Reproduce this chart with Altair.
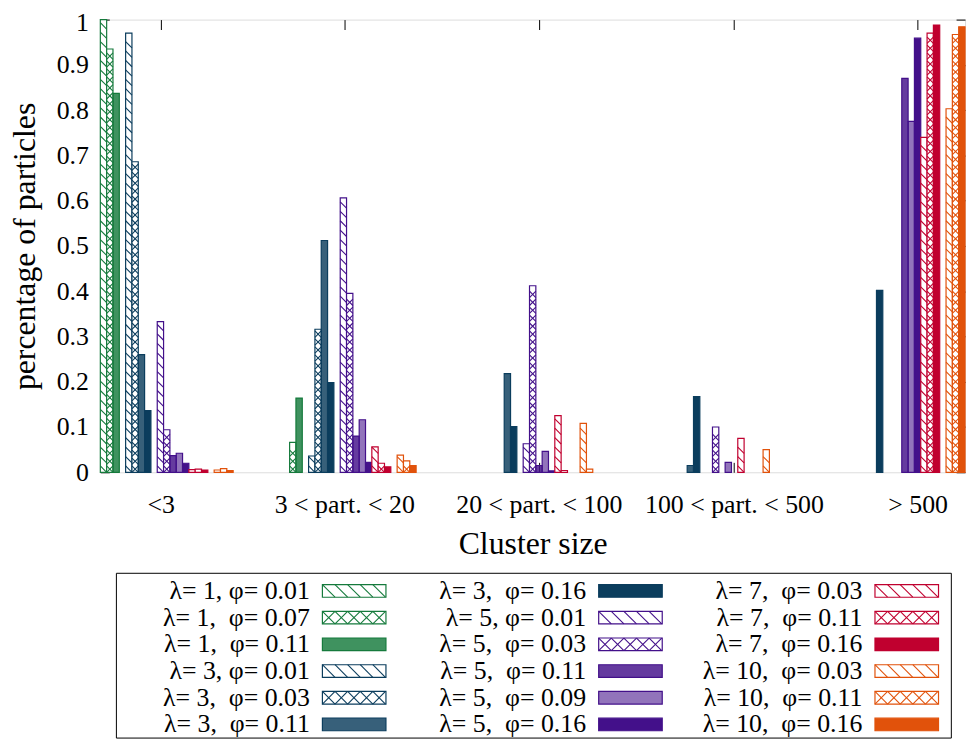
import json
import altair as alt
import pandas as pd

# ---------------- data ----------------
groups = ["<3", "3 < part. < 20", "20 < part. < 100", "100 < part. < 500", "> 500"]

labels = [
    "λ= 1, φ= 0.01", "λ= 1,\u00a0 φ= 0.07", "λ= 1,\u00a0 φ= 0.11",
    "λ= 3, φ= 0.01", "λ= 3,\u00a0 φ= 0.03", "λ= 3,\u00a0 φ= 0.11",
    "λ= 3,\u00a0 φ= 0.16", "λ= 5, φ= 0.01", "λ= 5,\u00a0 φ= 0.03",
    "λ= 5,\u00a0 φ= 0.11", "λ= 5,\u00a0 φ= 0.09", "λ= 5,\u00a0 φ= 0.16",
    "λ= 7,\u00a0 φ= 0.03", "λ= 7,\u00a0 φ= 0.11", "λ= 7,\u00a0 φ= 0.16",
    "λ= 10,\u00a0 φ= 0.03", "λ= 10,\u00a0 φ= 0.11", "λ= 10,\u00a0 φ= 0.16",
]

l1_p001 = [1.000, 0.000, 0.000, 0.000, 0.000]
l1_p007 = [0.935, 0.066, 0.000, 0.000, 0.000]
l1_p011 = [0.837, 0.164, 0.000, 0.000, 0.000]
l3_p001 = [0.970, 0.036, 0.000, 0.000, 0.000]
l3_p003 = [0.686, 0.316, 0.000, 0.000, 0.000]
l3_p011 = [0.260, 0.512, 0.218, 0.015, 0.000]
l3_p016 = [0.136, 0.198, 0.101, 0.167, 0.402]
l5_p001 = [0.333, 0.606, 0.063, 0.000, 0.000]
l5_p003 = [0.094, 0.395, 0.412, 0.100, 0.000]
l5_p011 = [0.037, 0.080, 0.015, 0.000, 0.870]
l5_p009 = [0.042, 0.116, 0.046, 0.022, 0.775]
l5_p016 = [0.020, 0.022, 0.003, 0.000, 0.959]
l7_p003 = [0.006, 0.056, 0.125, 0.075, 0.740]
l7_p011 = [0.007, 0.020, 0.004, 0.000, 0.970]
l7_p016 = [0.005, 0.012, 0.000, 0.000, 0.988]
l10_p003 = [0.005, 0.038, 0.108, 0.050, 0.803]
l10_p011 = [0.008, 0.025, 0.007, 0.000, 0.967]
l10_p016 = [0.004, 0.0145, 0.000, 0.000, 0.984]

series_values = [l1_p001, l1_p007, l1_p011, l3_p001, l3_p003, l3_p011, l3_p016,
                 l5_p001, l5_p003, l5_p011, l5_p009, l5_p016,
                 l7_p003, l7_p011, l7_p016, l10_p003, l10_p011, l10_p016]

y_ticks = [0, 0.1, 0.2, 0.3, 0.4, 0.5, 0.6, 0.7, 0.8, 0.9, 1]

# ---------------- styles / layout ----------------
GREEN, BLUE, PURPLE, RED, ORANGE = "#157a3c", "#0b3d5d", "#43108a", "#c0002f", "#e1520b"
colors = [GREEN] * 3 + [BLUE] * 4 + [PURPLE] * 5 + [RED] * 3 + [ORANGE] * 3
styles = ["hatch", "cross", "dense",
          "hatch", "cross", "dense", "solid",
          "hatch", "cross", "dense", "denser", "solid",
          "hatch", "cross", "solid",
          "hatch", "cross", "solid"]
slots = [0, 1, 2, 4, 5, 6, 7, 9, 10, 11, 12, 13, 14, 15, 16, 18, 19, 20]
GROUP_STEP = 28.93
X_MAX = 4 * GROUP_STEP + 21
tick_pos = [9.53, 38.57, 69.33, 100.19, 129.23]

W, H = 871, 456
PX_SLOT = W / X_MAX
fill_op = {"hatch": 1.0, "cross": 1.0, "dense": 0.82, "denser": 0.58, "solid": 1.0}

# ---------------- tables ----------------
bar_rows, line_rows = [], []
for s, vals in enumerate(series_values):
    st, col = styles[s], colors[s]
    for g, v in enumerate(vals):
        if v <= 0:
            continue
        x0 = g * GROUP_STEP + slots[s]
        x1 = x0 + 1
        bar_rows.append(dict(x0=x0, x1=x1, v=v, zero=0,
                             fill=("white" if st in ("hatch", "cross") else col),
                             fop=fill_op[st], color=col))
        if st in ("hatch", "cross"):
            period = 9.5 if st == "hatch" else 8.0
            drop = PX_SLOT / H
            k = 0
            while k * period + PX_SLOT <= v * H:
                lo = k * period / H
                hi = lo + drop
                line_rows.append(dict(xa=x0, xb=x1, ya=hi, yb=lo, color=col))
                if st == "cross":
                    line_rows.append(dict(xa=x0, xb=x1, ya=lo, yb=hi, color=col))
                k += 1

bars_df = pd.DataFrame(bar_rows)
lines_df = pd.DataFrame(line_rows)

# legend geometry (in legend units: 1 column step / 1 row step)
COL_PX, ROW_PX = 278.3, 26.9
SX0, SX1 = 12.7 / COL_PX, 76.7 / COL_PX
SH = 6.35 / ROW_PX
SPAN = 12.7 / COL_PX
leg_text, leg_box, leg_lines = [], [], []
for i, lab in enumerate(labels):
    c, r = i // 6, i % 6
    st, col = styles[i], colors[i]
    leg_text.append(dict(c=c, r=r, label=lab))
    leg_box.append(dict(xa=c + SX0, xb=c + SX1, ya=r - SH, yb=r + SH,
                        fill=("white" if st in ("hatch", "cross") else col),
                        fop=fill_op[st], color=col))
    if st in ("hatch", "cross"):
        for j in range(5):
            s0 = c + SX0 + j * SPAN
            leg_lines.append(dict(xa=s0, xb=s0 + SPAN, ya=r - SH, yb=r + SH, color=col))
            if st == "cross":
                leg_lines.append(dict(xa=s0, xb=s0 + SPAN, ya=r + SH, yb=r - SH, color=col))
leg_text_df = pd.DataFrame(leg_text)
leg_box_df = pd.DataFrame(leg_box)
leg_lines_df = pd.DataFrame(leg_lines)
frame_df = pd.DataFrame([dict(xa=-0.70, xb=2.322, ya=-0.66, yb=5.51)])

# ---------------- chart ----------------
FONT = "Liberation Serif"
xs = alt.Scale(domain=[0, X_MAX], nice=False, zero=False)
ys = alt.Scale(domain=[0, 1], nice=False)
LX0, LY0 = 211, 575.5
lxs = alt.Scale(domain=[0, 2], range=[LX0, LX0 + 2 * COL_PX], nice=False, zero=False)
lys = alt.Scale(domain=[0, 5], range=[LY0, LY0 + 5 * ROW_PX], nice=False, zero=False)

label_expr = "%s[indexof(%s, datum.value)]" % (json.dumps(groups), json.dumps(tick_pos))

x_axis = alt.Axis(values=tick_pos, labelExpr=label_expr, tickSize={"expr": "-10"},
                  labelPadding=30, labelLimit=400, domain=False, grid=False,
                  title="Cluster size", titleY=72, titleBaseline="middle",
                  labelFont=FONT, labelFontSize=26, titleFont=FONT, titleFontSize=32,
                  titleFontWeight="normal", labelColor="black", titleColor="black",
                  tickColor="black")
y_axis = alt.Axis(values=y_ticks, format="~g", tickSize={"expr": "-9"}, labelPadding=21,
                  labelOffset={"expr": "datum.value == 1 ? 3 : 0"},
                  domain=False, grid=False, title="percentage of particles",
                  titleX=-76, titleBaseline="middle", titleAlign="center",
                  labelFont=FONT, labelFontSize=26, titleFont=FONT, titleFontSize=32,
                  titleFontWeight="normal", labelColor="black", titleColor="black",
                  tickColor="black")

bars = alt.Chart(bars_df).mark_rect(strokeWidth=1.2).encode(
    x=alt.X("x0:Q", scale=xs, axis=x_axis),
    x2="x1:Q",
    y=alt.Y("v:Q", scale=ys, axis=y_axis),
    y2="zero:Q",
    fill=alt.Fill("fill:N", scale=None),
    fillOpacity=alt.FillOpacity("fop:Q", scale=None),
    stroke=alt.Stroke("color:N", scale=None),
)

hatch = alt.Chart(lines_df).mark_rule(strokeWidth=1.1).encode(
    x=alt.X("xa:Q", scale=xs, axis=alt.Axis(orient="top", values=tick_pos, labels=False,
                                             tickSize={"expr": "-10"}, domain=False,
                                             grid=False, title=None, tickColor="black")),
    x2="xb:Q",
    y=alt.Y("ya:Q", scale=ys, axis=alt.Axis(orient="right", values=y_ticks, labels=False,
                                             tickSize={"expr": "-9"}, domain=False,
                                             grid=False, title=None, tickColor="black")),
    y2="yb:Q",
    color=alt.Color("color:N", scale=None),
)

leg_frame = alt.Chart(frame_df).mark_rect(fillOpacity=0, stroke="black", strokeWidth=1).encode(
    x=alt.X("xa:Q", scale=lxs, axis=None), x2="xb:Q",
    y=alt.Y("ya:Q", scale=lys, axis=None), y2="yb:Q",
)
leg_samples = alt.Chart(leg_box_df).mark_rect(strokeWidth=1.2).encode(
    x=alt.X("xa:Q", scale=lxs, axis=None), x2="xb:Q",
    y=alt.Y("ya:Q", scale=lys, axis=None), y2="yb:Q",
    fill=alt.Fill("fill:N", scale=None),
    fillOpacity=alt.FillOpacity("fop:Q", scale=None),
    stroke=alt.Stroke("color:N", scale=None),
)
leg_hatch = alt.Chart(leg_lines_df).mark_rule(strokeWidth=1.1).encode(
    x=alt.X("xa:Q", scale=lxs, axis=None), x2="xb:Q",
    y=alt.Y("ya:Q", scale=lys, axis=None), y2="yb:Q",
    color=alt.Color("color:N", scale=None),
)
leg_labels = alt.Chart(leg_text_df).mark_text(align="right", baseline="middle", font=FONT,
                                              fontSize=26, color="black").encode(
    x=alt.X("c:Q", scale=lxs, axis=None),
    y=alt.Y("r:Q", scale=lys, axis=None),
    text="label:N",
)

chart = alt.layer(bars, hatch, leg_frame, leg_samples, leg_hatch, leg_labels).resolve_scale(
    x="independent", y="independent"
).properties(
    width=W, height=H,
    autosize=alt.AutoSizeParams(type="none"),
    padding={"left": 93, "top": 9, "right": 3, "bottom": 267},
    background="white",
).configure_view(stroke="black", strokeWidth=1.3).configure(font=FONT)

chart.save("out.html", embed_options={"renderer": "svg", "actions": False})
